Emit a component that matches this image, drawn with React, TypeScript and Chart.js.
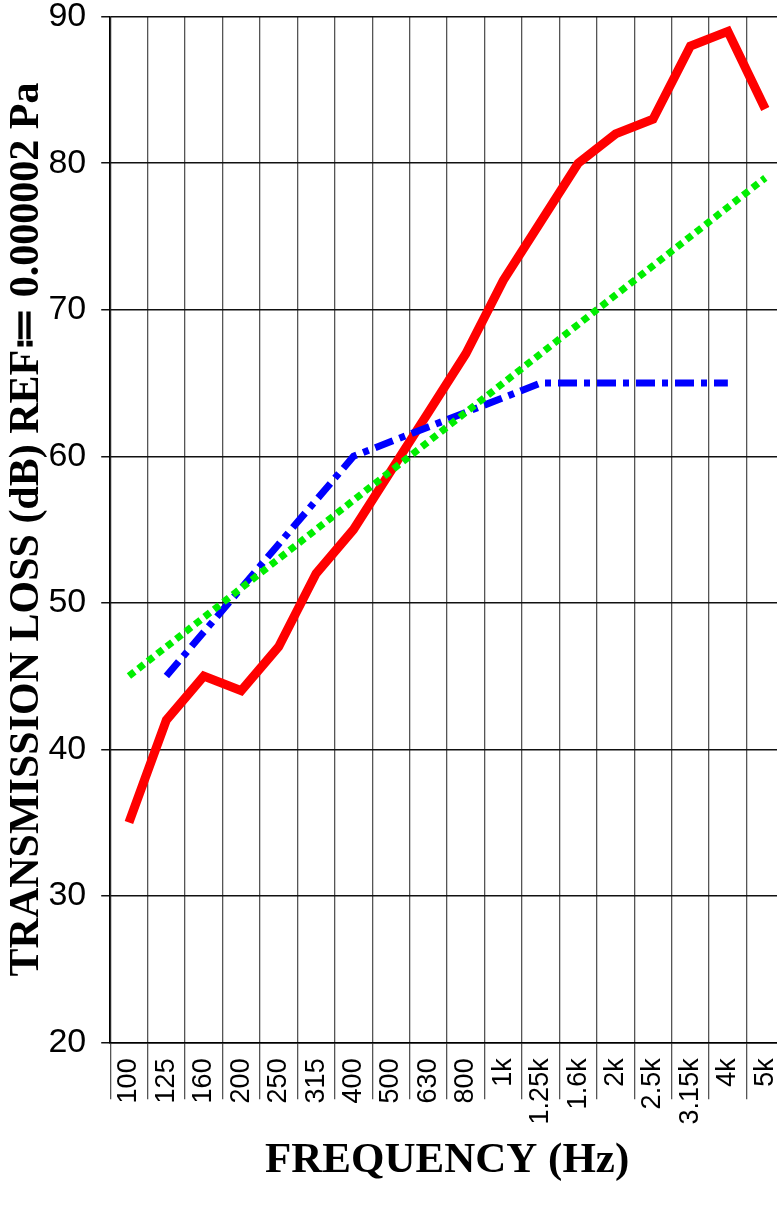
import { useEffect, useRef } from 'react';
import { Chart, registerables } from 'chart.js';

Chart.register(...registerables);

const frequencies = ['100', '125', '160', '200', '250', '315', '400', '500', '630', '800', '1k', '1.25k', '1.6k', '2k', '2.5k', '3.15k', '4k', '5k'];
const measuredTL = [35, 42, 45, 44, 47, 52, 55, 59, 63, 67, 72, 76, 80, 82, 83, 88, 89, 83.7];
const predictedTL = [null, 45, 48, 51, 54, 57, 60, 61, 62, 63, 64, 65, 65, 65, 65, 65, 65, null];
const referenceTL = [45, 47, 49, 51, 53, 55, 57, 59, 61, 63, 65, 67, 69, 71, 73, 75, 77, 79];
const yMin = 20;
const yMax = 90;
const yStep = 10;
const yTitle = 'TRANSMISSION LOSS (dB) REF\u2254 0.000002 Pa';
const xTitle = 'FREQUENCY (Hz)';

export default function App() {
  const ref = useRef<HTMLCanvasElement | null>(null);

  useEffect(() => {
    if (!ref.current) return;
    const chart = new Chart(ref.current, {
      type: 'line',
      data: {
        labels: frequencies,
        datasets: [
          {
            label: 'Reference',
            data: referenceTL,
            borderColor: '#00ee00',
            borderWidth: 7,
            borderDash: [7, 5],
            borderCapStyle: 'butt',
            pointRadius: 0,
            tension: 0,
            fill: false,
          },
          {
            label: 'Predicted',
            data: predictedTL,
            borderColor: '#0000ff',
            borderWidth: 7,
            borderDash: [19, 7, 6, 7],
            borderCapStyle: 'butt',
            pointRadius: 0,
            tension: 0,
            fill: false,
            spanGaps: false,
          },
          {
            label: 'Measured',
            data: measuredTL,
            borderColor: '#ff0000',
            borderWidth: 9,
            pointRadius: 0,
            tension: 0,
            fill: false,
          },
        ],
      },
      options: {
        animation: false,
        responsive: false,
        devicePixelRatio: 1,
        layout: { padding: { left: 0, right: 0, top: 0, bottom: 0 } },
        plugins: {
          legend: { display: false },
          tooltip: { enabled: false },
        },
        scales: {
          x: {
            type: 'category',
            offset: true,
            grid: {
              offset: true,
              color: '#555',
              lineWidth: 1.3,
              drawTicks: true,
              tickLength: 57,
            },
            border: { color: '#000', width: 1.5 },
            ticks: {
              autoSkip: false,
              minRotation: 90,
              maxRotation: 90,
              padding: -41,
              color: '#000',
              font: { family: '"Liberation Sans", Arial, sans-serif', size: 27, lineHeight: 1.1 },
            },
            title: {
              display: true,
              text: xTitle,
              color: '#000',
              font: { family: '"Liberation Serif", "Times New Roman", serif', size: 43, weight: 'bold', lineHeight: 1.2 },
              padding: { top: 52, bottom: 22 },
            },
          },
          y: {
            min: yMin,
            max: yMax,
            grid: {
              color: '#111',
              lineWidth: 1.5,
              drawTicks: true,
              tickLength: 9,
            },
            border: { color: '#000', width: 1.5 },
            ticks: {
              stepSize: yStep,
              padding: 15,
              color: '#000',
              font: { family: '"Liberation Sans", Arial, sans-serif', size: 34, lineHeight: 0.1 },
            },
            title: {
              display: true,
              text: yTitle,
              color: '#000',
              font: { family: '"Liberation Serif", "Times New Roman", serif', size: 42, weight: 'bold', lineHeight: 1.2 },
              padding: { top: 2, bottom: -19 },
            },
          },
        },
      },
    });
    return () => chart.destroy();
  }, []);

  return (
    <div style={{ position: 'absolute', left: 0, top: 0, width: 777, height: 1209, overflow: 'hidden', background: '#fff' }}>
      <canvas ref={ref} width={784} height={1209} style={{ width: 784, height: 1209, display: 'block' }} />
    </div>
  );
}
